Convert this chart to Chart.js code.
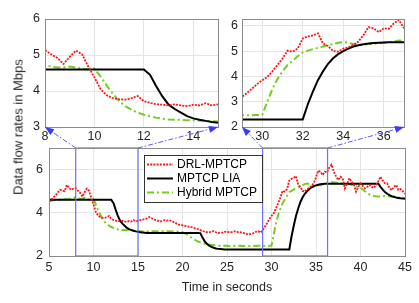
<!DOCTYPE html>
<html>
<head>
<meta charset="utf-8">
<script src="https://cdn.jsdelivr.net/npm/chart.js@4"></script>
<style>
  html, body { margin: 0; padding: 0; background: #fff; }
  #wrap { position: relative; width: 419px; height: 303px; overflow: hidden; font-family: 'Liberation Sans', Arial, sans-serif; }
  #wrap canvas { position: absolute; }
  #ylabel { position: absolute; left: 18px; top: 127px; transform: translate(-50%, -50%) rotate(-90deg); white-space: nowrap; font-size: 13px; color: #262626; }
</style>
</head>
<body>
<div id="wrap">
  <canvas id="leftZoom" style="left:0;top:0;width:230px;height:150px" width="230" height="150"></canvas>
  <canvas id="rightZoom" style="left:222px;top:0;width:197px;height:150px" width="197" height="150"></canvas>
  <canvas id="mainChart" style="left:0;top:130px;width:419px;height:173px" width="419" height="173"></canvas>
  <canvas id="arrows" style="left:0;top:0;width:419px;height:303px" width="419" height="303"></canvas>
  <div id="ylabel">Data flow rates in Mbps</div>
</div>
<script>
// samples every 0.25 s from 5 s to 45 s
const timeStart = 5;
const timeStep = 0.25;

const drlMptcp = [
  4.51, 4.60, 4.72, 4.80,  4.95, 5.06, 5.02, 5.00,  5.29, 5.15, 5.06, 5.12,
  5.14, 5.02, 4.92, 4.75,  4.95, 5.12, 5.02, 4.68,  4.38, 4.05, 3.88, 3.80,
  3.77, 3.76, 3.80, 3.86,  3.72, 3.67, 3.63, 3.62,  3.60, 3.63, 3.60, 3.58,
  3.62, 3.60, 3.66, 3.60,  3.63, 3.66, 3.68, 3.70,  3.74, 3.80, 3.76, 3.70,
  3.66, 3.63, 3.60, 3.62,  3.66, 3.64, 3.66, 3.62,  3.57, 3.52, 3.46, 3.44,
  3.42, 3.40, 3.38, 3.35,  3.34, 3.30, 3.26, 3.24,  3.20, 3.16, 3.12, 3.10,
  3.10, 3.13, 3.15, 3.10,  3.06, 3.08, 3.08, 3.12,  3.12, 3.10, 3.10, 3.14,
  3.14, 3.10, 3.10, 3.08,  3.05, 3.02, 3.00, 3.03,  3.06, 3.12, 3.15, 3.08,
  3.19, 3.35, 3.52, 3.70,  3.85, 3.98, 4.20, 4.45,  4.71, 5.02, 4.98, 5.10,
  5.50, 5.58, 5.62, 5.70,  5.30, 5.20, 5.00, 4.98,  5.10, 5.15, 5.25, 5.38,
  5.64, 5.95, 5.90, 5.75,  5.90, 5.88, 6.10, 6.23,  5.90, 5.70, 5.52, 5.67,
  5.60, 5.13, 5.35, 5.60,  5.44, 5.30, 4.98, 5.20,  5.36, 5.25, 5.13, 5.20,
  5.29, 5.20, 5.15, 5.30,  5.45, 5.67, 5.50, 5.36,  5.36, 5.15, 5.05, 5.20,
  5.29, 5.06, 5.10, 5.00,  4.88
];

const mptcpLia = [
  4.60, 4.60, 4.60, 4.60,  4.60, 4.60, 4.60, 4.60,  4.60, 4.60, 4.60, 4.60,
  4.60, 4.60, 4.60, 4.60,  4.60, 4.60, 4.60, 4.60,  4.60, 4.60, 4.60, 4.60,
  4.60, 4.60, 4.60, 4.60,  4.60, 4.45, 4.13, 3.85,  3.62, 3.50, 3.40, 3.30,
  3.24, 3.20, 3.17, 3.14,  3.12, 3.10, 3.09, 3.08,  3.07, 3.07, 3.07, 3.07,
  3.07, 3.07, 3.07, 3.07,  3.07, 3.07, 3.07, 3.07,  3.07, 3.07, 3.07, 3.07,
  3.07, 3.07, 3.07, 3.07,  3.07, 3.07, 3.07, 3.07,  3.06, 2.85, 2.68, 2.56,
  2.48, 2.42, 2.38, 2.35,  2.33, 2.32, 2.31, 2.30,  2.30, 2.30, 2.30, 2.30,
  2.30, 2.30, 2.30, 2.30,  2.30, 2.30, 2.30, 2.30,  2.30, 2.30, 2.30, 2.30,
  2.30, 2.30, 2.30, 2.30,  2.30, 2.30, 2.30, 2.30,  2.30, 2.30, 2.30, 2.30,
  2.30, 2.90, 3.40, 3.85,  4.20, 4.50, 4.72, 4.88,  5.00, 5.10, 5.18, 5.23,
  5.27, 5.30, 5.32, 5.33,  5.34, 5.35, 5.35, 5.35,  5.35, 5.35, 5.35, 5.35,
  5.35, 5.35, 5.35, 5.35,  5.35, 5.35, 5.35, 5.35,  5.35, 5.35, 5.35, 5.35,
  5.35, 5.35, 5.35, 5.35,  5.35, 5.20, 5.07, 4.96,  4.88, 4.82, 4.77, 4.74,
  4.71, 4.69, 4.67, 4.66,  4.65
];

const hybridMptcp = [
  4.55, 4.57, 4.58, 4.60,  4.60, 4.61, 4.62, 4.63,  4.63, 4.64, 4.66, 4.68,
  4.72, 4.68, 4.65, 4.66,  4.68, 4.65, 4.62, 4.60,  4.62, 4.40, 4.15, 3.92,
  3.72, 3.58, 3.48, 3.40,  3.34, 3.30, 3.26, 3.23,  3.21, 3.20, 3.20, 3.19,
  3.19, 3.18, 3.17, 3.16,  3.15, 3.15, 3.14, 3.14,  3.14, 3.15, 3.14, 3.15,
  3.15, 3.14, 3.15, 3.15,  3.14, 3.15, 3.15, 3.14,  3.15, 3.14, 3.14, 3.13,
  3.10, 3.05, 3.00, 2.92,  2.85, 2.78, 2.72, 2.67,  2.63, 2.60, 2.57, 2.55,
  2.53, 2.52, 2.50, 2.49,  2.48, 2.48, 2.47, 2.47,  2.47, 2.46, 2.47, 2.47,
  2.46, 2.47, 2.47, 2.46,  2.47, 2.47, 2.46, 2.47,  2.47, 2.46, 2.47, 2.47,
  2.47, 2.46, 2.46, 2.47,  2.48, 3.00, 3.50, 3.90,  4.20, 4.45, 4.62, 4.80,
  4.95, 5.02, 5.08, 5.13,  5.18, 5.23, 5.28, 5.33,  5.36, 5.33, 5.28, 5.25,
  5.26, 5.28, 5.29, 5.31,  5.33, 5.36, 5.38, 5.42,  5.40, 5.40, 5.38, 5.37,
  5.35, 5.34, 5.33, 5.32,  5.30, 5.27, 5.23, 5.19,  5.15, 5.08, 5.00, 4.92,
  4.85, 4.81, 4.78, 4.76,  4.75, 4.76, 4.77, 4.78,  4.78, 4.76, 4.74, 4.73,
  4.72, 4.70, 4.69, 4.68,  4.68
];

const seriesNames = ['DRL-MPTCP', 'MPTCP LIA', 'Hybrid MPTCP'];

const mainXRange = [5, 45];
const mainYRange = [2, 7];
const mainXTicks = [5, 10, 15, 20, 25, 30, 35, 40, 45];
const mainYTicks = [2, 4, 6];

const leftXRange = [8, 15];
const leftYRange = [3, 6];
const leftXTicks = [8, 10, 12, 14];
const leftYTicks = [3, 4, 5, 6];

const rightXRange = [29, 37];
const rightYRange = [2, 6.27];
const rightXTicks = [30, 32, 34, 36];
const rightYTicks = [2, 3, 4, 5, 6];

// zoomed windows marked on the main plot
const markLeftX = [8, 15];
const markRightX = [29, 36.3];

Chart.defaults.font.family = "'Liberation Sans', Arial, sans-serif";
Chart.defaults.color = '#262626';

function makeDatasets() {
  const pts = arr => arr.map((v, i) => ({ x: timeStart + i * timeStep, y: v }));
  return [
    { label: seriesNames[0], data: pts(drlMptcp), borderColor: '#ff1414', borderWidth: 1.8, borderDash: [2, 1.2], pointRadius: 0 },
    { label: seriesNames[1], data: pts(mptcpLia), borderColor: '#000000', borderWidth: 2, pointRadius: 0 },
    { label: seriesNames[2], data: pts(hybridMptcp), borderColor: '#6fd01e', borderWidth: 2, borderDash: [7, 3, 2, 3], pointRadius: 0 }
  ];
}

function makeAxes(xRange, yRange, xTicks, yTicks, o) {
  const tickFont = { size: 12.5 };
  return {
    x: {
      type: 'linear', min: xRange[0], max: xRange[1],
      afterBuildTicks: s => { s.ticks = xTicks.map(v => ({ value: v })); },
      afterFit: s => { s.height = o.xHeight; },
      grid: { color: '#e4e4e4', drawTicks: false },
      border: { display: false },
      ticks: { font: tickFont, padding: o.xPad, maxRotation: 0, autoSkip: false },
      title: o.xTitle || { display: false }
    },
    y: {
      type: 'linear', min: yRange[0], max: yRange[1],
      afterBuildTicks: s => { s.ticks = yTicks.map(v => ({ value: v })); },
      afterFit: s => { s.width = o.yWidth; },
      grid: { color: '#e4e4e4', drawTicks: false },
      border: { display: false },
      ticks: { font: tickFont, padding: o.yPad, autoSkip: false }
    }
  };
}

// grey box around the plotting area
const framePlugin = {
  id: 'frame',
  afterDatasetsDraw(chart) {
    const { ctx, chartArea: a } = chart;
    ctx.save();
    ctx.strokeStyle = '#8c8c8c';
    ctx.lineWidth = 1;
    ctx.strokeRect(Math.round(a.left) + 0.5, Math.round(a.top) + 0.5, Math.round(a.right - a.left), Math.round(a.bottom - a.top));
    ctx.restore();
  }
};

// blue rectangles showing the zoomed windows
const markPlugin = {
  id: 'marks',
  afterDatasetsDraw(chart) {
    const { ctx, scales } = chart;
    ctx.save();
    ctx.strokeStyle = '#6f6fff';
    ctx.lineWidth = 1.2;
    [markLeftX, markRightX].forEach(r => {
      const x1 = scales.x.getPixelForValue(r[0]);
      const x2 = scales.x.getPixelForValue(r[1]);
      const y1 = scales.y.getPixelForValue(mainYRange[1]);
      const y2 = scales.y.getPixelForValue(mainYRange[0]);
      ctx.strokeRect(x1, y1, x2 - x1, y2 - y1);
    });
    ctx.restore();
  }
};

// boxed legend inside the main plot
const legendPlugin = {
  id: 'boxLegend',
  afterDraw(chart) {
    const { ctx, chartArea } = chart;
    const x0 = Math.round(chartArea.left + 95), y0 = Math.round(chartArea.top + 7);
    ctx.save();
    ctx.fillStyle = '#fff';
    ctx.fillRect(x0, y0, 118, 47);
    ctx.strokeStyle = '#333';
    ctx.lineWidth = 1;
    ctx.strokeRect(x0 + 0.5, y0 + 0.5, 118, 47);
    ctx.font = "12px 'Liberation Sans', Arial, sans-serif";
    ctx.textBaseline = 'middle';
    chart.data.datasets.forEach((ds, i) => {
      const y = y0 + 9.5 + i * 14;
      ctx.strokeStyle = ds.borderColor;
      ctx.lineWidth = ds.borderWidth;
      ctx.setLineDash(ds.borderDash || []);
      ctx.beginPath();
      ctx.moveTo(x0 + 3, y);
      ctx.lineTo(x0 + 29, y);
      ctx.stroke();
      ctx.setLineDash([]);
      ctx.fillStyle = '#000';
      ctx.fillText(ds.label, x0 + 33, y);
    });
    ctx.restore();
  }
};

const baseOptions = {
  responsive: false,
  animation: false,
  plugins: { legend: { display: false }, tooltip: { enabled: false } }
};

const leftChart = new Chart(document.getElementById('leftZoom'), {
  type: 'line',
  data: { datasets: makeDatasets() },
  options: {
    ...baseOptions,
    layout: { padding: { left: 0, right: 12, top: 19, bottom: 0 } },
    scales: makeAxes(leftXRange, leftYRange, leftXTicks, leftYTicks, { xHeight: 23, xPad: 2.5, yWidth: 45, yPad: 5 })
  },
  plugins: [framePlugin]
});

const rightChart = new Chart(document.getElementById('rightZoom'), {
  type: 'line',
  data: { datasets: makeDatasets() },
  options: {
    ...baseOptions,
    layout: { padding: { left: 0, right: 15, top: 19, bottom: 0 } },
    scales: makeAxes(rightXRange, rightYRange, rightXTicks, rightYTicks, { xHeight: 23, xPad: 2.5, yWidth: 20, yPad: 4 })
  },
  plugins: [framePlugin]
});

const mainChart = new Chart(document.getElementById('mainChart'), {
  type: 'line',
  data: { datasets: makeDatasets() },
  options: {
    ...baseOptions,
    layout: { padding: { left: 0, right: 14, top: 18, bottom: 0 } },
    scales: makeAxes(mainXRange, mainYRange, mainXTicks, mainYTicks, {
      xHeight: 47, xPad: 4.5, yWidth: 49, yPad: 6,
      xTitle: { display: true, text: 'Time in seconds', font: { size: 12.5 }, padding: { top: 0, bottom: 8 } }
    })
  },
  plugins: [markPlugin, framePlugin, legendPlugin]
});

// dash-dot arrows from the marked windows up to the zoomed plots
function drawArrows() {
  const ctx = document.getElementById('arrows').getContext('2d');
  const at = (chart, offX, offY, x, y) => [offX + chart.scales.x.getPixelForValue(x), offY + chart.scales.y.getPixelForValue(y)];
  const links = [
    [at(mainChart, 0, 130, markLeftX[0], mainYRange[1]), at(leftChart, 0, 0, leftXRange[0], leftYRange[0])],
    [at(mainChart, 0, 130, markLeftX[1], mainYRange[1]), at(leftChart, 0, 0, leftXRange[1], leftYRange[0])],
    [at(mainChart, 0, 130, markRightX[0], mainYRange[1]), at(rightChart, 222, 0, rightXRange[0], rightYRange[0])],
    [at(mainChart, 0, 130, markRightX[1], mainYRange[1]), at(rightChart, 222, 0, rightXRange[1], rightYRange[0])]
  ];
  ctx.save();
  links.forEach(([p, q]) => {
    ctx.strokeStyle = '#5a5aff';
    ctx.lineWidth = 1;
    ctx.setLineDash([5, 2, 1.5, 2]);
    ctx.beginPath();
    ctx.moveTo(p[0], p[1]);
    ctx.lineTo(q[0], q[1]);
    ctx.stroke();
    ctx.setLineDash([]);
    const ang = Math.atan2(q[1] - p[1], q[0] - p[0]);
    const len = 9, half = 3.5;
    const bx = q[0] - len * Math.cos(ang), by = q[1] - len * Math.sin(ang);
    ctx.fillStyle = '#3a3aff';
    ctx.beginPath();
    ctx.moveTo(q[0], q[1]);
    ctx.lineTo(bx + half * Math.sin(ang), by - half * Math.cos(ang));
    ctx.lineTo(bx - half * Math.sin(ang), by + half * Math.cos(ang));
    ctx.closePath();
    ctx.fill();
  });
  ctx.restore();
}
drawArrows();
</script>
</body>
</html>
